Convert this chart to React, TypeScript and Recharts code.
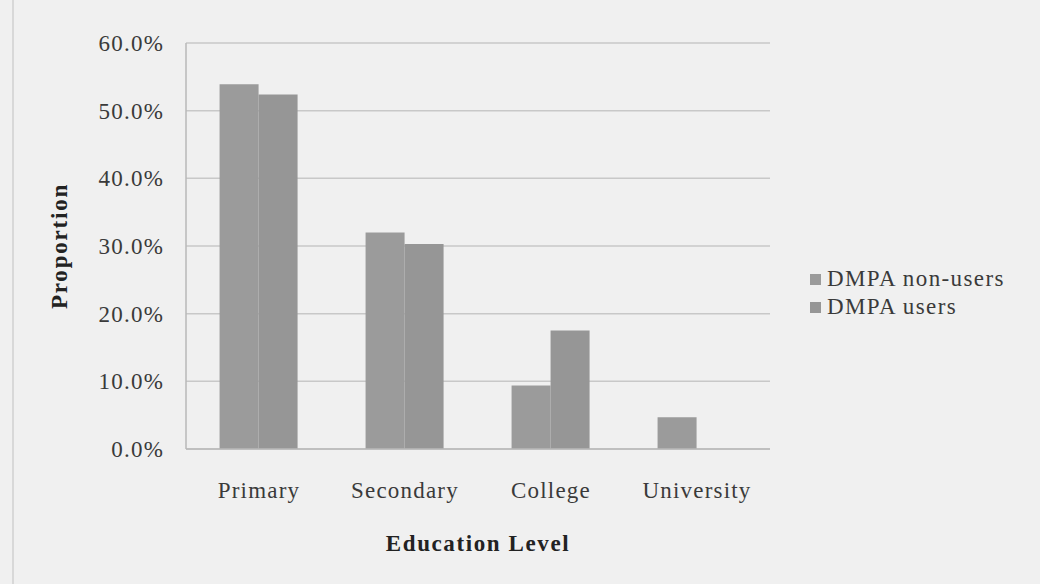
import { BarChart, Bar, XAxis, YAxis, CartesianGrid, Legend } from "recharts";

const categories = ["Primary", "Secondary", "College", "University"];
const nonUsers = [53.9, 32.0, 9.4, 4.7];
const users = [52.4, 30.3, 17.5, 0];
const yTicks = [0, 10, 20, 30, 40, 50, 60];

const seriesNames = ["DMPA non-users", "DMPA users"];
const seriesColors = ["#9b9b9b", "#969696"];

const data = categories.map((c, i) => ({
    name: c,
    nonUsers: nonUsers[i],
    users: users[i],
}));

const FONT = "'Liberation Serif', 'Times New Roman', serif";
const TEXT = "#3a3a3a";

const YLabel = (props: any) => {
    const vb = props.viewBox || { x: 0, y: 0, height: 0 };
    const cx = vb.x - 27;
    const cy = vb.y + vb.height / 2;
    return (
        <text
            x={cx}
            y={cy}
            transform={`rotate(-90, ${cx}, ${cy})`}
            textAnchor="middle"
            dominantBaseline="central"
            fontFamily={FONT}
            fontWeight="bold"
            fontSize={23}
            letterSpacing={1.8}
            fill="#222"
        >
            Proportion
        </text>
    );
};

const LegendBox = (props: any) => {
    const payload = props.payload || [];
    return (
        <div style={{ fontFamily: FONT, fontSize: 23, letterSpacing: 1.4, color: TEXT }}>
            {payload.map((p: any, i: number) => (
                <div key={`lg-${i}`} style={{ display: "flex", alignItems: "center", height: 28 }}>
                    <span style={{ display: "inline-block", width: 11, height: 11, background: p.color, marginRight: 6 }} />
                    <span>{p.value}</span>
                </div>
            ))}
        </div>
    );
};

export default function App() {
    return (
        <div style={{ position: "absolute", left: 0, top: 0, width: 1040, height: 584, background: "#f0f0f0" }}>
            <div style={{ position: "absolute", left: 12, top: 0, width: 2, height: 584, background: "#d8d8d8" }} />
            <BarChart
                width={1040}
                height={584}
                data={data}
                margin={{ top: 43, right: 270, bottom: 25, left: 86 }}
                barCategoryGap="23%"
                barGap={0}
            >
                <CartesianGrid vertical={false} stroke="#c8c8c8" strokeWidth={1.5} />
                <XAxis
                    dataKey="name"
                    height={110}
                    tickLine={false}
                    tickSize={0}
                    tickMargin={33}
                    axisLine={{ stroke: "#b8b8b8", strokeWidth: 1.5 }}
                    tick={{ fontFamily: FONT, fontSize: 23, fill: TEXT, letterSpacing: 1.2 }}
                    label={{
                        value: "Education Level",
                        position: "insideBottom",
                        offset: 8,
                        style: { fontFamily: FONT, fontWeight: "bold", fontSize: 23, fill: "#222", letterSpacing: 1.6 },
                    }}
                />
                <YAxis
                    width={100}
                    domain={[0, 60]}
                    ticks={yTicks}
                    interval={0}
                    tickLine={false}
                    tickSize={0}
                    tickMargin={22}
                    axisLine={{ stroke: "#b8b8b8", strokeWidth: 1.5 }}
                    tickFormatter={(v: number) => `${v.toFixed(1)}%`}
                    tick={{ fontFamily: FONT, fontSize: 23, fill: TEXT, letterSpacing: 1.2 }}
                    label={<YLabel />}
                />
                <Legend
                    layout="vertical"
                    align="center"
                    verticalAlign="middle"
                    content={<LegendBox />}
                    wrapperStyle={{ position: "absolute", left: 810, top: 265, width: 230 }}
                />
                <Bar dataKey="nonUsers" name={seriesNames[0]} fill={seriesColors[0]} isAnimationActive={false} />
                <Bar dataKey="users" name={seriesNames[1]} fill={seriesColors[1]} isAnimationActive={false} />
            </BarChart>
        </div>
    );
}
